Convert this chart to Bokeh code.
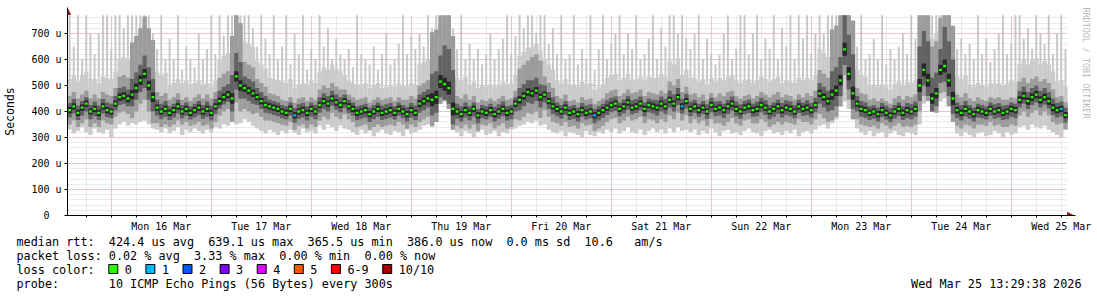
import numpy as np
from bokeh.plotting import figure
from bokeh.layouts import column
from bokeh.models import Range1d, FixedTicker, Arrow, NormalHead, Title
from bokeh.core.properties import value
from bokeh.embed import file_html
from bokeh.resources import INLINE

# ---------------- data (x = hours since Mar 15 13:00, one bin per hour) ----------------
day_labels = ["Mon 16 Mar", "Tue 17 Mar", "Wed 18 Mar", "Thu 19 Mar", "Fri 20 Mar",
              "Sat 21 Mar", "Sun 22 Mar", "Mon 23 Mar", "Tue 24 Mar", "Wed 25 Mar"]
y_tick_values = [0, 100, 200, 300, 400, 500, 600, 700]
y_tick_labels = ["0", "100 u", "200 u", "300 u", "400 u", "500 u", "600 u", "700 u"]
graph_upper_limit = 770

# median rtt per hour (microseconds)
median_us = [
    405, 420, 395, 415, 430, 400, 410, 395, 420, 405,
    400,
    430, 455, 460, 450, 465,
    490, 520, 545, 500, 455,
    415, 400, 410, 395, 405, 420, 400, 410, 395, 405, 415, 400, 410, 395,
    420, 440, 455, 465, 450,
    535, 500,
    490, 480, 470, 455,
    440, 425, 420, 415, 410,
    400, 395, 410, 385, 400, 405, 395, 410, 400,
    425, 440, 430, 450, 435, 425, 440, 420,
    410, 395, 400, 405, 390, 400, 410, 395, 400, 405, 395, 410, 400, 390, 405, 395,
    430, 440, 450, 445, 455,
    515, 505, 490,
    410,
    400, 390, 405, 395, 410, 385, 400, 395, 405, 390, 400, 410, 395, 400,
    430, 445, 460, 475, 470, 480, 455, 465, 440,
    420, 410, 400, 415, 395,
    400, 390, 405, 395, 400, 385, 395, 405,
    415, 425, 430, 410, 420, 435, 415, 420, 430, 410, 425, 420, 415, 430, 420,
    445, 430, 455, 420, 440,
    410, 420, 405, 415, 400, 425, 410, 415, 405, 420, 430, 410, 400, 415, 420, 405,
    410, 425, 415, 400, 410, 420, 405, 415, 410, 400, 420, 410, 415, 405, 425,
    470, 455, 440, 465, 480,
    520, 639, 545,
    470,
    430, 410, 405, 395, 400, 390, 405, 395, 385, 400, 410, 395, 405, 400, 410,
    500, 560, 520, 450, 470, 560, 575, 520, 450,
    405, 395, 410, 400, 390, 405, 400, 395, 410, 400, 405, 395, 400, 410, 405,
    445, 460, 440, 455, 465, 445, 455, 440,
    415, 405, 410, 386,
]

# lowest ping per hour (microseconds)
min_us = [
    330, 315, 325, 340, 320, 310, 335, 320, 315, 330,
    300,
    335, 350, 360, 345, 355,
    350, 360, 365, 350, 335,
    330, 320, 335, 315, 325, 340, 310, 330, 320, 335, 325, 315, 330, 320,
    340, 335, 350, 345, 360,
    350, 355,
    370, 360, 345, 335,
    325, 315, 330, 320, 310,
    325, 315, 330, 320, 310, 335, 320, 325, 315,
    345, 330, 350, 340, 325, 345, 335, 330,
    320, 310, 330, 315, 325, 305, 320, 330, 315, 310, 325, 320, 305, 330, 315, 320,
    330, 345, 350, 340, 360,
    430, 440, 410,
    330,
    320, 305, 325, 315, 300, 320, 330, 310, 315, 325, 305, 320, 315, 330,
    335, 345, 350, 360, 355, 365, 345, 350, 330,
    320, 315, 325, 305, 320,
    315, 310, 300, 325, 310, 305, 320, 315,
    330, 320, 335, 315, 325, 340, 320, 315, 330, 310, 325, 335, 320, 330, 315,
    335, 320, 340, 325, 330,
    320, 330, 310, 325, 315, 335, 320, 305, 325, 330, 315, 320, 310, 325, 335, 320,
    315, 305, 325, 330, 315, 320, 310, 325, 315, 330, 305, 320, 325, 315, 330,
    345, 350, 335, 355, 370,
    420, 440, 410,
    370,
    335, 320, 310, 325, 305, 315, 320, 300, 315, 325, 310, 305, 320, 315, 310,
    350, 430, 440, 400, 395, 440, 450, 420, 360,
    315, 305, 320, 310, 300, 315, 320, 305, 310, 325, 315, 300, 320, 310, 315,
    340, 345, 330, 350, 340, 335, 345, 330,
    320, 310, 300, 330,
]

# highest ping per hour (microseconds)
max_us = [
    770, 650, 770, 600, 770, 700, 620, 700, 770, 770, 640, 770,
    770, 720, 770, 770, 770, 770, 770, 770, 700, 640, 770, 600,
    680, 600, 770, 560, 650, 600, 570, 700, 600, 640, 770, 620,
    770, 690, 770, 770, 770, 770, 770, 770, 720, 650, 770, 680,
    620, 770, 600, 650, 770, 580, 700, 620, 770, 560, 640, 600,
    770, 650, 720, 600, 680, 620, 600, 640, 570, 770, 620, 600,
    580, 650, 560, 620, 700, 580, 600, 660, 770, 620, 690, 640,
    700, 650, 770, 720, 770, 770, 770, 770, 720, 640, 770, 600,
    660, 600, 640, 580, 620, 700, 600, 640, 680, 770, 620, 690,
    770, 720, 770, 770, 700, 770, 770, 660, 720, 620, 770, 600,
    620, 770, 580, 640, 600, 770, 560, 640, 770, 600, 660, 700,
    770, 620, 700, 640, 770, 600, 620, 680, 770, 600, 720, 650,
    770, 770, 700, 770, 680, 640, 700, 770, 600, 680, 620, 580,
    620, 700, 770, 600, 640, 770, 770, 620, 700, 770, 600, 680,
    640, 770, 600, 720, 650, 770, 600, 770, 680, 770, 620, 700,
    770, 700, 770, 770, 770, 770, 770, 770, 720, 650, 770, 600,
    620, 680, 600, 770, 580, 640, 600, 650, 700, 620, 770, 680,
    770, 770, 770, 770, 770, 770, 770, 770, 720, 640, 680, 620,
    660, 600, 770, 620, 680, 590, 640, 700, 770, 620, 660, 770,
    770, 680, 720, 640, 770, 700, 660, 770, 620, 700, 770, 640,
]

# hours (bin index) where pings were lost, and how many of 10
loss_hours = [54, 126, 147, 238]
loss_counts = [1, 1, 1, 1]

# smoke spread around the median, per 3-hour block (microseconds)
light_up = [
    120, 125, 115, 125, 150, 200, 200, 140, 105, 110,
    105, 100, 160, 230, 180, 140, 110, 115, 105, 110,
    130, 130, 100, 105, 100, 95, 100, 105, 150, 220,
    230, 130, 105, 100, 105, 110, 170, 180, 140, 110,
    105, 110, 100, 115, 110, 105, 110, 115, 150, 120,
    110, 105, 115, 110, 105, 110, 115, 105, 110, 115,
    170, 230, 230, 130, 105, 100, 105, 110, 230, 230,
    230, 130, 105, 100, 105, 110, 140, 140, 140, 110,
]
mid_up = [
    55, 50, 55, 60, 80, 200, 220, 60, 50, 45,
    50, 55, 90, 240, 100, 70, 50, 45, 50, 45,
    60, 60, 45, 50, 45, 50, 45, 55, 70, 260,
    280, 60, 50, 45, 50, 50, 120, 140, 70, 50,
    45, 50, 45, 55, 50, 55, 50, 50, 70, 55,
    50, 45, 55, 50, 45, 50, 55, 50, 45, 55,
    90, 250, 280, 60, 50, 45, 50, 55, 280, 200,
    280, 60, 50, 45, 50, 45, 70, 70, 70, 50,
]
dark_up = [
    28, 25, 28, 30, 35, 60, 70, 30, 25, 25,
    25, 28, 40, 90, 45, 35, 25, 25, 28, 25,
    30, 30, 25, 25, 25, 28, 25, 28, 35, 100,
    150, 30, 25, 25, 28, 25, 45, 50, 35, 25,
    25, 28, 25, 28, 25, 28, 25, 28, 35, 28,
    25, 28, 25, 28, 25, 28, 25, 28, 25, 28,
    40, 90, 150, 30, 25, 28, 25, 28, 150, 80,
    150, 30, 25, 25, 28, 25, 35, 35, 35, 28,
]
core_half = [
    12, 12, 12, 12, 14, 18, 18, 12, 12, 12,
    12, 12, 14, 20, 14, 12, 12, 12, 12, 12,
    12, 12, 12, 12, 12, 12, 12, 12, 14, 25,
    25, 12, 12, 12, 12, 12, 14, 14, 12, 12,
    12, 12, 12, 12, 12, 12, 12, 12, 12, 12,
    12, 12, 12, 12, 12, 12, 12, 12, 12, 12,
    14, 20, 25, 12, 12, 12, 12, 12, 25, 20,
    25, 12, 12, 12, 12, 12, 14, 14, 14, 12,
]
dark_down = [
    28, 30, 28, 26, 30, 45, 55, 30, 28, 26,
    28, 30, 28, 50, 40, 30, 28, 26, 28, 30,
    30, 28, 26, 28, 30, 28, 26, 28, 35, 60,
    60, 28, 30, 26, 28, 30, 40, 40, 30, 28,
    28, 26, 30, 28, 28, 26, 28, 30, 30, 28,
    26, 28, 30, 28, 26, 28, 30, 28, 26, 28,
    40, 60, 60, 30, 28, 26, 28, 30, 60, 50,
    60, 30, 28, 26, 28, 30, 30, 30, 28, 28,
]
mid_down = [
    55, 60, 55, 50, 60, 90, 100, 60, 55, 50,
    55, 60, 55, 100, 80, 60, 55, 50, 55, 60,
    60, 55, 50, 55, 60, 55, 50, 55, 70, 100,
    100, 55, 60, 50, 55, 60, 80, 80, 60, 55,
    55, 50, 60, 55, 55, 50, 55, 60, 60, 55,
    50, 55, 60, 55, 50, 55, 60, 55, 50, 55,
    80, 100, 100, 60, 55, 50, 55, 60, 100, 90,
    100, 60, 55, 50, 55, 60, 60, 60, 55, 55,
]

loss_labels = ["0", "1", "2", "3", "4", "5", "6-9", "10/10"]
loss_colors = ["#26ff00", "#00b8ff", "#0059ff", "#7e00ff", "#dd00ff", "#ff5500", "#ff0000", "#a10000"]

rtt_title = "median rtt:"
rtt_stats = ["424.4 us avg", "639.1 us max", "365.5 us min", "386.0 us now", "0.0 ms sd", "10.6", "am/s"]
loss_title = "packet loss:"
loss_stats = ["0.02 % avg", "3.33 % max", "0.00 % min", "0.00 % now"]
color_title = "loss color:"
probe_title = "probe:"
probe_text = "10 ICMP Echo Pings (56 Bytes) every 300s"
stamp_text = "Wed Mar 25 13:29:38 2026"
watermark = "RRDTOOL / TOBI OETIKER"

assert len(median_us) == 240 and len(min_us) == 240 and len(max_us) == 240
for arr in (light_up, mid_up, dark_up, core_half, dark_down, mid_down):
    assert len(arr) == 80

# ---------------- derived geometry ----------------
n = len(median_us)
left = 0.5 + np.arange(n)
right = left + 1.03
centers = left + 0.5
med = np.array(median_us, float)
lo = np.array(min_us, float)
hi = np.array(max_us, float)


def per_hour(a):
    return np.repeat(np.array(a, float), 3)


lu, mu, du, ch, dd, md = (per_hour(a) for a in (light_up, mid_up, dark_up, core_half, dark_down, mid_down))
cap = float(graph_upper_limit)
light_top = np.minimum(med + lu, cap)

loss_per_bin = np.zeros(n, int)
for h, c in zip(loss_hours, loss_counts):
    loss_per_bin[h] = c


def loss_color(c):
    if c <= 5:
        return loss_colors[c]
    if c < 10:
        return loss_colors[6]
    return loss_colors[7]


med_colors = [loss_color(c) for c in loss_per_bin]

# ---------------- main chart ----------------
W = 1097
MAIN_H = 234
LEG_H = 297 - MAIN_H
FL, FR, FT, FB = 66, 22, 7, 19
PXH = 1001.0 / 240.0     # pixels per hour
PXU = 0.26               # pixels per microsecond
frame_w = W - FL - FR
frame_h = MAIN_H - FT - FB
x_end = 0.5 + frame_w / PXH
y_end = frame_h / PXU
FONT = "DejaVu Sans Mono"

p = figure(width=W, height=MAIN_H, output_backend="svg", toolbar_location=None,
           x_range=Range1d(0.5, x_end), y_range=Range1d(0, y_end),
           min_border_left=FL, min_border_right=FR, min_border_top=FT, min_border_bottom=FB)
p.frame_align = False
p.outline_line_color = None
p.background_fill_color = "white"
p.border_fill_color = "white"

# grids
noons = [23 + 24 * i for i in range(len(day_labels))]
midnights = [11 + 24 * i for i in range(len(day_labels))]
six_hours = list(range(5, 241, 6))
p.xgrid.ticker = FixedTicker(ticks=midnights, minor_ticks=six_hours)
p.xgrid.grid_line_color = "#e3a3a3"
p.xgrid.grid_line_dash = "1 1"
p.xgrid.minor_grid_line_color = "#d4d4d4"
p.xgrid.minor_grid_line_dash = "1 1"
p.xgrid.cross_bounds = (0, cap)
yt = FixedTicker(ticks=y_tick_values, minor_ticks=list(range(0, graph_upper_limit, 20)))
p.ygrid.ticker = yt
p.ygrid.grid_line_color = "#e3a3a3"
p.ygrid.grid_line_dash = "1 1"
p.ygrid.minor_grid_line_color = "#d4d4d4"
p.ygrid.minor_grid_line_dash = "1 1"
p.ygrid.cross_bounds = (0.5, 240.5)

# smoke
p.quad(left=left, right=right, bottom=lo, top=light_top, fill_color="#cbcbcb", line_color=None)
p.vbar(x=centers, width=0.45, bottom=light_top, top=np.minimum(np.maximum(hi, light_top), cap),
       fill_color="#c6c6c6", line_color=None)
p.quad(left=left, right=right, bottom=np.maximum(lo, med - md), top=np.minimum(med + mu, cap),
       fill_color="#9c9c9c", line_color=None)
p.quad(left=left, right=right, bottom=np.maximum(lo, med - dd), top=np.minimum(med + du, cap),
       fill_color="#626262", line_color=None)
p.quad(left=left, right=right, bottom=np.maximum(lo, med - ch), top=med + ch,
       fill_color="#262626", line_color=None)
# median band coloured by loss
p.quad(left=centers - 0.33, right=centers + 0.33, bottom=med - 4.5, top=med + 4.5,
       fill_color=med_colors, line_color=None)

# axes
p.yaxis.ticker = yt
p.yaxis.major_label_overrides = {v: (t if t != "0" else "0\u00a0\u00a0") for v, t in zip(y_tick_values, y_tick_labels)}
p.yaxis.axis_label = "Seconds"
p.yaxis.axis_label_text_font = FONT
p.yaxis.axis_label_text_font_size = "11.5px"
p.yaxis.axis_label_text_font_style = "normal"
p.yaxis.axis_label_text_color = "black"
p.yaxis.axis_label_standoff = 11
p.yaxis.major_tick_out = 3
p.yaxis.major_tick_in = 0
p.yaxis.minor_tick_out = 0
p.yaxis.minor_tick_in = 0
p.yaxis.major_label_standoff = 3

p.xaxis.ticker = FixedTicker(ticks=noons, minor_ticks=six_hours)
p.xaxis.major_label_overrides = {v: t for v, t in zip(noons, day_labels)}
p.xaxis.major_tick_out = 0
p.xaxis.major_tick_in = 0
p.xaxis.minor_tick_out = 2
p.xaxis.minor_tick_in = 0
p.xaxis.major_label_standoff = 3

for ax in (p.xaxis, p.yaxis):
    ax.major_label_text_font = FONT
    ax.major_label_text_font_size = "10px"
    ax.major_label_text_color = "black"
    ax.axis_line_color = "black"
    ax.major_tick_line_color = "black"
    ax.minor_tick_line_color = "black"

# axis arrows
p.add_layout(Arrow(end=NormalHead(size=6, fill_color="#8b1a1a", line_color="#8b1a1a"),
                   x_start=0.5, y_start=0, x_end=0.5, y_end=y_end - 1.0 / PXU,
                   line_color="black", line_width=1))
p.add_layout(Arrow(end=NormalHead(size=6, fill_color="#8b1a1a", line_color="#8b1a1a"),
                   x_start=0.5, y_start=0, x_end=x_end - 2.0 / PXH, y_end=0,
                   line_color="black", line_width=1))

# vertical watermark on the right
p.add_layout(Title(text=watermark, align="left", text_font=FONT, text_font_size="8.4px",
                   text_color="#b8b8b8", text_font_style="normal"), "right")

# ---------------- legend block below ----------------
leg = figure(width=W, height=LEG_H, output_backend="svg", toolbar_location=None,
             x_range=Range1d(0, W), y_range=Range1d(LEG_H, 0),
             min_border=0, x_axis_location=None, y_axis_location=None)
leg.frame_align = False
leg.grid.visible = False
leg.outline_line_color = None
leg.background_fill_color = "white"
leg.border_fill_color = "white"

CW = 7.1
LEG_FS = "11.8px"
rows_y = [241 - MAIN_H, 255 - MAIN_H, 269 - MAIN_H, 283 - MAIN_H]


def col(c):
    return 16 + c * CW


tx, ty, tt = [], [], []


def put(x, y, s):
    tx.append(x)
    ty.append(y)
    tt.append(s)


put(col(0), rows_y[0], rtt_title)
for c, s in zip([13, 27, 41, 55, 69, 80, 87], rtt_stats):
    put(col(c), rows_y[0], s)
put(col(0), rows_y[1], loss_title)
for c, s in zip([13, 25, 37, 49], loss_stats):
    put(col(c), rows_y[1], s)
put(col(0), rows_y[2], color_title)
bl, br = [], []
bx = col(13)
for lab in loss_labels:
    bl.append(bx)
    br.append(bx + 9)
    put(bx + 16, rows_y[2], lab)
    bx = bx + 16 + CW * len(lab) + 14
put(col(0), rows_y[3], probe_title)
put(col(13), rows_y[3], probe_text)

leg.text(x=tx, y=ty, text=tt, text_font=value(FONT), text_font_size=value(LEG_FS),
         text_baseline="middle", text_align="left", text_color="black")
leg.text(x=[1081], y=[rows_y[3]], text=[stamp_text], text_font=value(FONT), text_font_size=value(LEG_FS),
         text_baseline="middle", text_align="right", text_color="black")
leg.quad(left=bl, right=br, top=[rows_y[2] - 5] * len(bl), bottom=[rows_y[2] + 4] * len(bl),
         fill_color=loss_colors, line_color="black", line_width=1)

layout = column(p, leg, spacing=0)
open("out.html", "w").write(file_html(layout, INLINE))
